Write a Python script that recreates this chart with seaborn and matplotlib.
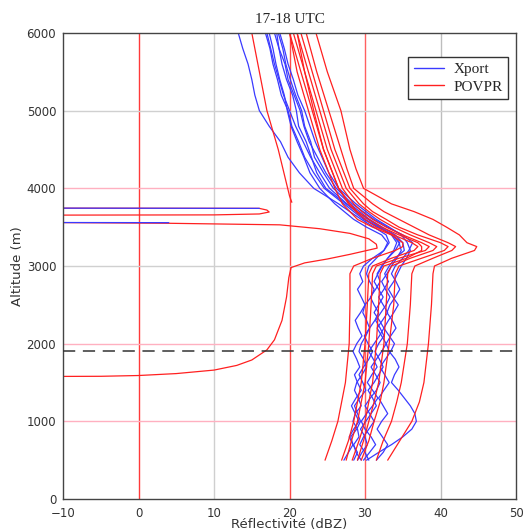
import numpy as np
import pandas as pd
import seaborn as sns
import matplotlib.pyplot as plt
from matplotlib.lines import Line2D

# altitude levels (m) for the smooth POVPR profiles
alt_povpr = [500, 750, 1000, 1250, 1500, 2000, 2500, 2900, 3000, 3100, 3200, 3250,
             3300, 3400, 3500, 3600, 3700, 3800, 4000, 4250, 4500, 5000, 5500, 6000]

povpr_dbz = [
    [33.0, 34.6, 36.2, 37.2, 37.8, 38.4, 38.8, 39.0, 39.2, 41.5, 44.5, 44.8,
     43.5, 42.5, 40.8, 39.0, 36.5, 33.5, 29.8, 28.8, 28.0, 26.8, 25.0, 23.5],
    [31.5, 32.4, 33.5, 34.2, 34.8, 35.6, 36.0, 36.2, 36.6, 39.0, 41.5, 42.0,
     41.0, 38.5, 36.5, 34.5, 32.5, 31.0, 28.5, 27.6, 26.8, 25.2, 23.6, 22.2],
    [29.5, 30.5, 31.2, 32.0, 32.5, 33.2, 33.8, 34.0, 34.5, 37.5, 40.5, 41.0,
     40.0, 37.0, 34.5, 32.8, 31.0, 29.8, 28.0, 27.0, 26.0, 24.5, 23.0, 21.5],
    [29.0, 29.8, 30.5, 31.2, 31.8, 32.5, 32.8, 33.0, 33.5, 36.0, 39.0, 39.5,
     38.5, 36.0, 33.8, 32.0, 30.5, 29.2, 27.5, 26.5, 25.5, 24.0, 22.5, 21.0],
    [27.5, 28.2, 29.0, 29.5, 30.0, 30.5, 30.8, 31.0, 31.5, 34.5, 38.0, 38.5,
     37.5, 35.0, 32.8, 31.0, 29.6, 28.5, 27.0, 26.0, 25.0, 23.5, 22.0, 20.5],
    [24.7, 25.6, 26.4, 26.9, 27.4, 27.9, 28.0, 28.0, 28.5, 31.0, 34.0, 35.0,
     35.0, 33.5, 31.0, 29.0, 28.0, 27.0, 26.0, 25.0, 24.0, 22.5, 21.0, 20.0],
    [28.3, 29.2, 30.0, 30.5, 31.0, 31.5, 31.8, 32.0, 32.5, 35.5, 37.5, 37.5,
     37.0, 34.5, 32.2, 30.5, 29.0, 28.0, 26.5, 25.5, 24.5, 23.0, 21.5, 20.0],
    [26.9, 27.8, 28.5, 29.0, 29.5, 30.0, 30.3, 30.5, 31.0, 33.5, 36.5, 37.0,
     36.2, 33.8, 31.5, 30.0, 28.8, 27.8, 26.5, 25.5, 24.5, 23.2, 22.0, 21.0],
]

# POVPR profile with the deep low-level tail (1580 m up to 3560 m)
tail_alt = [1578, 1580, 1590, 1615, 1660, 1720, 1790, 1920, 2050, 2300, 2600, 2850,
            2980, 3040, 3090, 3150, 3230, 3280, 3350, 3420, 3480, 3530, 3550, 3560]
tail_dbz = [-12, -5, 0, 5, 10, 13, 15, 17, 18, 19, 19.6, 19.9,
            20.2, 22, 25, 28, 31.6, 31.5, 30.5, 28, 24, 18.7, 4, -12]

# POVPR profile that falls off near 3800 m, then the echo spike
upper_alt = [6000, 5500, 5000, 4500, 4100, 3900, 3820]
upper_dbz = [15.0, 16.0, 17.0, 18.5, 19.5, 20.0, 20.3]
spike_alt = [3745, 3742, 3720, 3695, 3670, 3658, 3655]
spike_dbz = [-12, 16.0, 17.0, 17.3, 16.0, 10.0, -12]

# altitude levels (m) for the Xport profiles
alt_xport = [500, 600, 700, 800, 900, 1000, 1100, 1200, 1300, 1400, 1500, 1600,
             1700, 1800, 1900, 2000, 2100, 2200, 2300, 2400, 2500, 2600, 2700, 2800,
             2900, 3000, 3100, 3200, 3300, 3400, 3500, 3600, 3800, 4000, 4200, 4400,
             4600, 4800, 5000, 5200, 5400, 5600, 5800, 6000]

xport_dbz = [
    [29.5, 28.8, 28.5, 29.2, 29.0, 28.4, 28.7, 29.5, 29.1, 28.6, 28.9, 29.6,
     30.2, 29.8, 29.2, 29.5, 30.1, 30.6, 30.2, 29.7, 30.0, 30.8, 31.2, 30.6,
     30.2, 30.5, 31.5, 32.5, 33.2, 32.8, 31.2, 29.5, 26.5, 23.2, 21.3, 19.8,
     18.8, 17.3, 16.0, 15.4, 15.0, 14.5, 13.8, 13.2],
    [27.2, 27.8, 28.4, 28.1, 28.9, 29.4, 29.0, 28.6, 29.3, 30.1, 29.7, 29.2,
     29.8, 30.5, 31.0, 30.4, 29.9, 30.6, 31.3, 31.8, 31.2, 30.7, 31.4, 32.0,
     31.6, 32.2, 33.0, 33.8, 34.2, 33.5, 31.8, 30.0, 27.6, 25.3, 24.0, 22.8,
     21.8, 20.8, 20.0, 19.2, 18.6, 18.0, 17.5, 17.0],
    [30.2, 31.8, 33.5, 35.0, 36.2, 36.8, 36.6, 36.0, 35.2, 34.4, 33.5, 33.9,
     34.5, 34.0, 33.2, 32.8, 33.4, 34.1, 33.6, 32.9, 33.3, 34.0, 34.6, 34.1,
     33.5, 34.0, 35.0, 35.8, 36.3, 35.0, 33.0, 31.2, 28.3, 26.2, 24.8, 23.7,
     22.6, 21.9, 21.4, 20.6, 19.8, 19.4, 18.6, 18.3],
    [29.0, 29.6, 30.3, 30.0, 29.4, 30.1, 30.8, 31.5, 31.0, 30.4, 31.2, 31.8,
     32.4, 31.9, 31.3, 31.8, 32.5, 32.0, 31.4, 32.1, 32.8, 33.3, 32.7, 32.2,
     32.9, 33.5, 34.2, 34.8, 34.5, 33.6, 32.0, 30.4, 27.5, 24.8, 23.6, 22.9,
     22.2, 21.2, 20.9, 20.4, 19.6, 19.0, 18.6, 18.0],
    [30.5, 30.0, 29.3, 29.8, 30.5, 31.2, 30.6, 30.0, 30.7, 31.5, 32.0, 31.4,
     30.8, 31.5, 32.2, 32.8, 32.2, 31.6, 32.3, 33.0, 32.4, 31.8, 32.5, 33.1,
     32.6, 33.2, 34.0, 35.2, 35.0, 34.0, 32.3, 30.6, 28.0, 25.8, 24.5, 23.3,
     22.8, 22.0, 21.6, 20.8, 20.1, 19.5, 19.1, 18.5],
    [28.5, 29.0, 28.4, 27.9, 28.5, 29.2, 28.7, 28.2, 28.8, 29.5, 29.0, 28.6,
     29.3, 28.9, 28.4, 28.9, 29.6, 29.1, 28.7, 29.4, 30.0, 29.5, 29.0, 29.7,
     29.3, 29.8, 31.0, 32.5, 33.0, 32.2, 30.2, 28.5, 26.0, 24.0, 22.7, 21.9,
     21.0, 20.2, 19.7, 19.3, 18.7, 18.2, 17.8, 17.3],
    [31.5, 32.4, 33.0, 32.3, 31.6, 32.2, 33.0, 32.4, 31.8, 32.5, 33.2, 32.6,
     32.0, 32.7, 33.4, 33.9, 33.2, 32.5, 33.1, 33.8, 34.4, 33.7, 33.1, 33.8,
     34.3, 34.8, 35.5, 36.0, 35.6, 34.8, 33.2, 31.5, 28.8, 26.5, 25.2, 24.3,
     23.4, 22.7, 22.0, 21.1, 20.5, 19.8, 19.3, 18.7],
    [29.8, 30.6, 31.4, 30.8, 30.0, 29.5, 30.2, 31.0, 31.7, 31.0, 30.3, 30.9,
     31.6, 31.1, 30.5, 31.2, 31.9, 32.5, 31.9, 31.2, 31.8, 32.4, 31.8, 31.2,
     31.7, 32.3, 33.0, 34.0, 34.6, 33.8, 31.8, 29.8, 27.2, 24.6, 23.2, 22.0,
     21.2, 20.3, 19.8, 18.9, 18.4, 17.8, 17.4, 16.8],
]

# Xport echoes overlapping the spikes
xport_spike1_alt = [3745, 3742]
xport_spike1_dbz = [-12, 16.0]
xport_spike2_alt = [3560, 3558]
xport_spike2_dbz = [-12, 4.0]

melting_base = 1900

BLUE = '#3a3aff'
RED = '#ff2020'


def build_frames():
    rows = []
    for i, prof in enumerate(xport_dbz):
        for a, d in zip(alt_xport, prof):
            rows.append(('Xport', f'x{i}', a, d))
    for i, prof in enumerate(povpr_dbz):
        for a, d in zip(alt_povpr, prof):
            rows.append(('POVPR', f'p{i}', a, d))
    for name, alts, vals in [('tail', tail_alt, tail_dbz),
                             ('upper', upper_alt, upper_dbz),
                             ('spike', spike_alt, spike_dbz)]:
        for a, d in zip(alts, vals):
            rows.append(('POVPR', name, a, d))
    extra = []
    for name, alts, vals in [('s1', xport_spike1_alt, xport_spike1_dbz),
                             ('s2', xport_spike2_alt, xport_spike2_dbz)]:
        for a, d in zip(alts, vals):
            extra.append(('Xport', name, a, d))
    cols = ['source', 'profile', 'alt', 'dbz']
    return pd.DataFrame(rows, columns=cols), pd.DataFrame(extra, columns=cols)


df, df_extra = build_frames()

sns.set_style('white')
fig = plt.figure(figsize=(5.26, 5.32), dpi=100)
ax = fig.add_axes([0.12, 0.062, 0.861, 0.876])

# grid lines (some coloured as in the original)
for x, c in [(0, '#ff3a3a'), (10, '#cfcfcf'), (20, '#ff4a4a'), (30, '#ff6060'), (40, '#bdbdbd')]:
    ax.axvline(x, color=c, lw=1.0, zorder=0)
for y, c in [(1000, '#ffb0c0'), (2000, '#ffb0c0'), (3000, '#d0d0d0'), (4000, '#ffb0c0'), (5000, '#d0d0d0')]:
    ax.axhline(y, color=c, lw=1.0, zorder=0)

sns.lineplot(data=df[df.source == 'Xport'], x='dbz', y='alt', units='profile',
             estimator=None, sort=False, color=BLUE, lw=0.9, ax=ax, legend=False)
sns.lineplot(data=df[df.source == 'POVPR'], x='dbz', y='alt', units='profile',
             estimator=None, sort=False, color=RED, lw=0.9, ax=ax, legend=False)
sns.lineplot(data=df_extra, x='dbz', y='alt', units='profile',
             estimator=None, sort=False, color=BLUE, lw=0.9, ax=ax, legend=False)

ax.axhline(melting_base, color='#333333', lw=1.1, ls=(0, (8, 5)), zorder=3)

ax.set_xlim(-10, 50)
ax.set_ylim(0, 6000)
ax.set_xticks([-10, 0, 10, 20, 30, 40, 50])
ax.set_yticks([0, 1000, 2000, 3000, 4000, 5000, 6000])
ax.tick_params(labelsize=8.5, length=3, color='#333333', labelcolor='#333333')
ax.tick_params(axis='x', pad=2.5)
ax.tick_params(axis='y', pad=2.0)
for s in ax.spines.values():
    s.set_color('#444444')
    s.set_linewidth(1.0)

ax.set_xlabel('Réflectivité (dBZ)', fontsize=9.5, color='#333333', labelpad=-1)
ax.set_ylabel('Altitude (m)', fontsize=9.5, color='#333333', labelpad=2)
ax.set_title('17-18 UTC', fontsize=11, family='Liberation Serif', pad=7)

handles = [Line2D([], [], color=BLUE, lw=1.0), Line2D([], [], color=RED, lw=1.0)]
ax.legend(handles, ['Xport', 'POVPR'], loc='upper right', bbox_to_anchor=(0.982, 0.948),
          frameon=True, fancybox=False, edgecolor='#333333', framealpha=1,
          prop={'family': 'Liberation Serif', 'size': 11}, handlelength=2.0,
          borderpad=0.35, labelspacing=0.25, handletextpad=0.6, borderaxespad=0)

fig.savefig('out.png', dpi=100)
